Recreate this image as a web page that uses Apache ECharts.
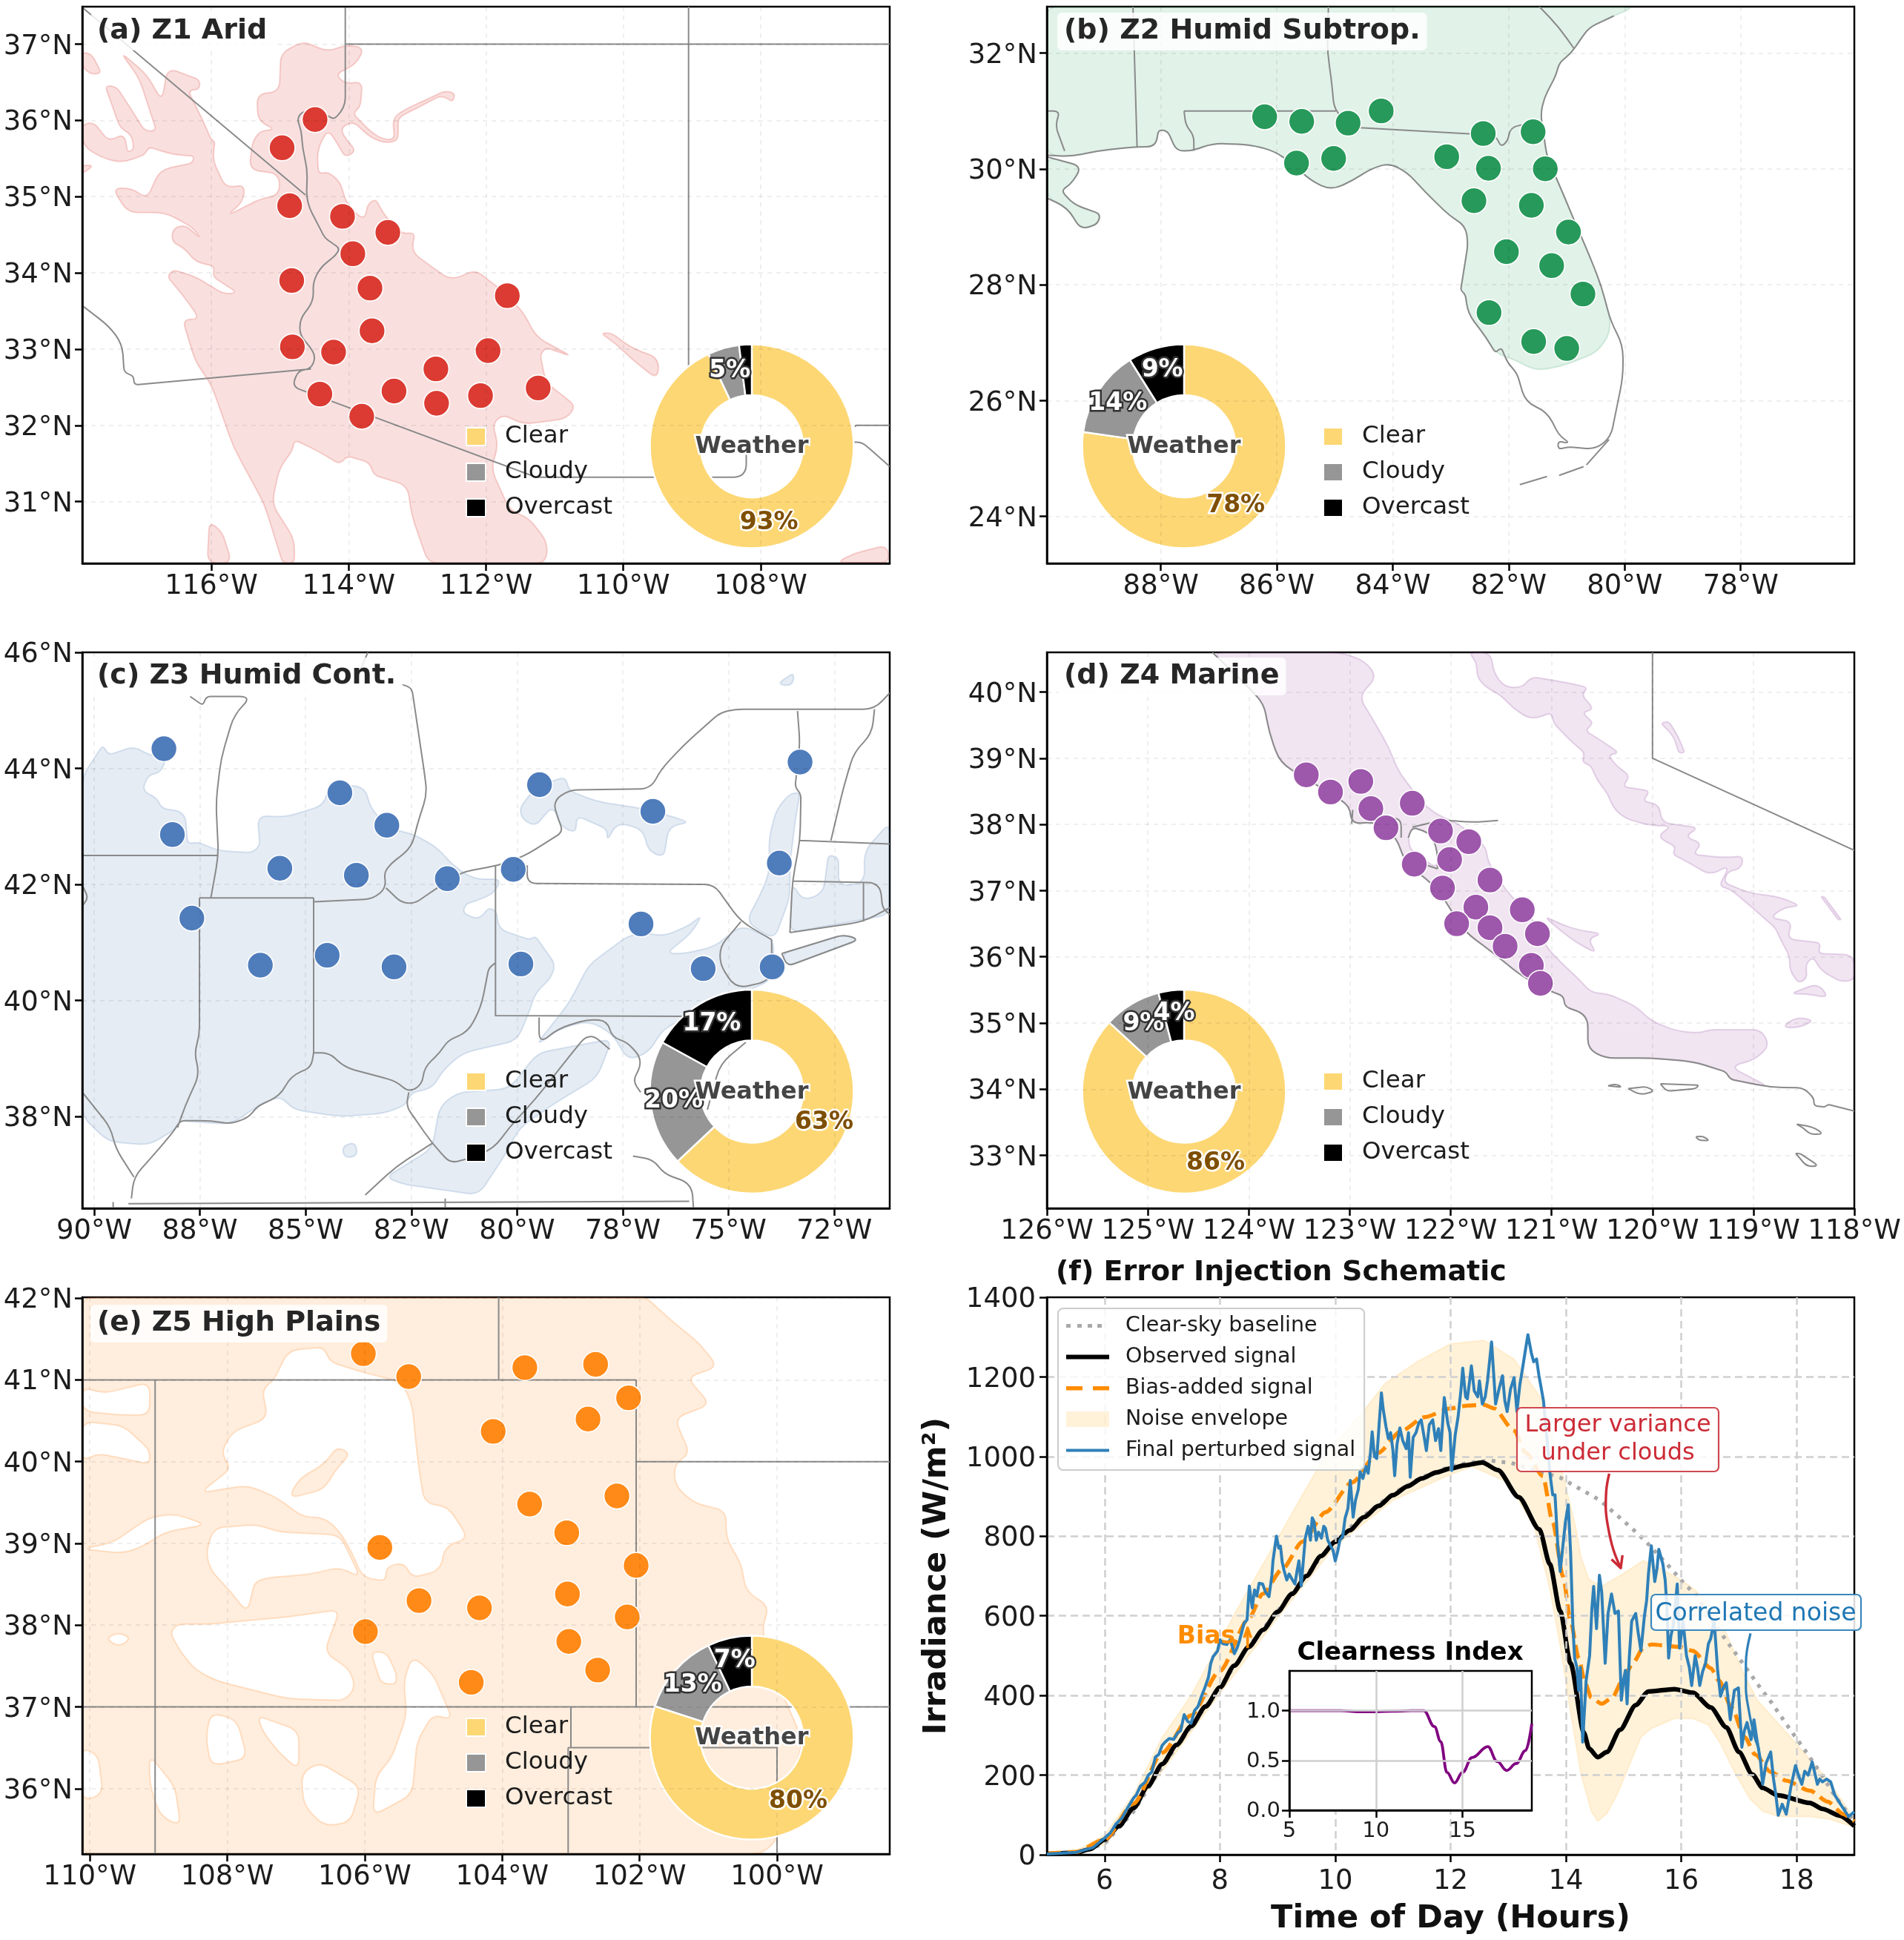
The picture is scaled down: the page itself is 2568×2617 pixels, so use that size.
<!DOCTYPE html>
<html>
<head>
<meta charset="utf-8">
<title>Climate zones and error injection</title>
<style>html,body{margin:0;padding:0;background:#fff}#chart{width:2568px;height:2617px}</style>
<script src="https://cdn.jsdelivr.net/npm/echarts@6/dist/echarts.min.js"></script>
</head>
<body>
<div id="chart"></div>
<script>
// ---- Z1 Arid -------------------------------------------------------------
const z1Sites = [[-114.49,36.01],[-114.97,35.64],[-114.86,34.88],[-114.09,34.74],[-113.43,34.53],[-113.94,34.25],[-114.83,33.90],[-113.69,33.80],[-111.69,33.70],[-113.66,33.24],[-114.82,33.03],[-114.22,32.96],[-111.97,32.98],[-112.73,32.74],[-111.24,32.49],[-114.42,32.41],[-113.34,32.45],[-112.72,32.29],[-112.08,32.39],[-113.81,32.12]];
const z1Land = [
 [[-114.99,36.88],[-114.74,37.0],[-114.63,37.02],[-114.30,36.90],[-114.05,36.99],[-113.77,36.95],[-113.89,36.74],[-114.19,36.60],[-114.05,36.48],[-113.80,36.51],[-113.83,36.18],[-113.94,36.09],[-113.69,35.86],[-113.53,35.76],[-113.33,35.74],[-113.36,36.04],[-113.14,36.16],[-112.92,36.25],[-112.59,36.39],[-112.45,36.35],[-112.48,36.24],[-112.65,36.33],[-112.92,36.20],[-113.14,36.10],[-113.28,36.03],[-113.28,35.73],[-113.47,35.70],[-113.69,35.78],[-113.94,35.99],[-114.13,35.89],[-114.02,35.73],[-113.89,35.60],[-114.05,35.51],[-114.16,35.69],[-114.30,35.88],[-114.46,35.62],[-114.44,35.30],[-114.30,35.32],[-114.13,35.20],[-114.02,34.88],[-113.77,34.69],[-113.72,34.90],[-113.61,34.97],[-113.47,34.74],[-113.22,34.51],[-113.03,34.53],[-113.09,34.28],[-112.81,34.09],[-112.51,33.90],[-112.15,34.04],[-111.96,33.90],[-111.82,33.81],[-111.46,33.49],[-111.27,33.16],[-110.99,33.02],[-110.74,32.90],[-111.13,33.02],[-111.21,32.93],[-111.13,32.56],[-110.88,32.39],[-110.69,32.25],[-110.83,32.09],[-111.21,32.04],[-111.46,32.02],[-111.76,32.14],[-111.90,32.02],[-111.82,31.72],[-111.93,31.44],[-111.65,30.88],[-111.38,30.79],[-111.10,30.46],[-111.13,30.19],[-112.84,30.19],[-113.09,30.84],[-113.14,31.21],[-113.64,31.35],[-113.69,31.51],[-114.02,31.60],[-114.13,31.49],[-114.46,31.67],[-114.79,31.81],[-114.82,31.67],[-115.01,31.44],[-115.12,30.97],[-114.79,30.51],[-114.79,30.19],[-114.96,30.19],[-115.23,30.97],[-115.46,31.35],[-115.68,31.72],[-115.90,32.28],[-116.01,32.55],[-116.23,32.83],[-116.42,33.39],[-116.17,33.39],[-116.34,33.62],[-116.64,33.95],[-116.56,34.04],[-116.23,33.95],[-115.98,33.81],[-115.81,33.72],[-115.62,33.74],[-115.98,33.95],[-115.95,34.09],[-116.23,34.14],[-116.39,34.32],[-116.58,34.41],[-116.56,34.58],[-116.39,34.63],[-116.14,34.44],[-116.28,34.60],[-116.67,34.79],[-117.22,34.79],[-117.44,35.11],[-117.16,35.11],[-116.94,34.97],[-116.75,35.35],[-116.28,35.44],[-116.25,35.53],[-116.56,35.55],[-116.91,35.65],[-116.97,35.55],[-117.30,35.44],[-117.60,35.51],[-117.88,35.67],[-117.88,35.95],[-117.71,35.97],[-117.49,35.72],[-117.27,35.83],[-117.22,35.58],[-117.13,35.62],[-117.16,35.81],[-117.33,35.90],[-117.55,36.46],[-117.38,36.44],[-117.13,36.09],[-116.97,35.86],[-116.80,35.86],[-117.05,36.55],[-117.33,36.90],[-116.94,36.60],[-116.72,36.25],[-116.64,36.69],[-116.17,36.53],[-116.17,36.41],[-116.34,36.39],[-116.12,35.99],[-116.01,35.76],[-115.95,35.72],[-115.98,35.48],[-115.79,35.11],[-115.51,35.16],[-115.54,34.93],[-115.79,34.74],[-115.29,34.97],[-115.01,35.02],[-115.01,35.30],[-115.45,35.35],[-115.40,35.72],[-115.29,35.86],[-115.07,35.88],[-115.32,35.99],[-115.34,36.35],[-115.01,36.37]],
 [[-117.88,36.90],[-117.74,36.86],[-117.60,36.62],[-117.74,36.60],[-117.88,36.69]],
 [[-110.33,33.21],[-110.17,33.21],[-109.89,33.02],[-109.48,32.88],[-109.50,32.60],[-109.89,32.88],[-110.11,33.07]],
 [[-116.06,30.19],[-116.03,30.74],[-115.84,30.60],[-115.70,30.19]],
 [[-117.88,35.41],[-117.71,35.41],[-117.88,35.30]],
 [[-106.65,30.32],[-106.16,30.43],[-106.12,30.20],[-106.90,30.20]]
];
const z1Borders = [
 [[-117.88,37.48],[-114.63,35.02]],
 [[-114.05,37.48],[-114.05,36.23],[-114.11,36.11],[-114.21,36.02],[-114.27,36.04],[-114.44,36.14],[-114.68,36.11],[-114.75,36.02],[-114.69,35.86],[-114.67,35.62],[-114.60,35.35],[-114.62,34.93],[-114.40,34.55],[-114.35,34.46],[-114.13,34.32],[-114.19,34.23],[-114.41,34.07],[-114.52,33.88],[-114.51,33.63],[-114.71,33.39],[-114.71,33.18],[-114.57,33.04],[-114.48,32.90],[-114.55,32.74],[-114.73,32.72],[-114.83,32.51],[-111.27,31.32],[-108.21,31.32],[-108.21,31.78],[-106.53,31.78],[-106.42,31.70],[-106.12,31.46]],
 [[-114.05,37.0],[-106.12,37.0]],
 [[-109.05,37.49],[-109.05,31.32]],
 [[-106.62,31.98],[-106.62,32.0],[-106.12,32.0]],
 [[-117.88,33.57],[-117.49,33.30],[-117.30,33.07],[-117.27,32.69],[-117.13,32.65],[-117.13,32.53],[-114.55,32.74]]
];
// ---- Z2 Humid subtropical ------------------------------------------------
const z2Sites = [[-86.21,30.90],[-85.57,30.82],[-84.77,30.79],[-84.20,31.00],[-82.44,30.61],[-81.58,30.64],[-85.66,30.10],[-85.02,30.18],[-83.07,30.21],[-82.35,30.01],[-81.37,30.00],[-82.60,29.45],[-81.61,29.37],[-80.97,28.91],[-82.04,28.57],[-81.26,28.33],[-80.72,27.84],[-82.34,27.52],[-81.57,27.02],[-81.00,26.90]];
const z2Land = [
 [[-89.97,32.80],[-79.82,32.80],[-80.19,32.64],[-80.61,32.44],[-80.76,32.24],[-80.92,32.0],[-81.13,31.83],[-81.18,31.63],[-81.39,31.22],[-81.45,30.95],[-81.39,30.54],[-81.34,30.20],[-81.13,29.73],[-80.82,28.99],[-80.61,28.51],[-80.40,27.97],[-80.24,27.36],[-80.29,27.09],[-80.50,26.82],[-81.13,26.58],[-81.55,26.52],[-81.86,26.69],[-82.23,26.82],[-82.39,27.09],[-82.70,27.50],[-82.75,27.84],[-82.83,27.90],[-82.70,28.72],[-82.75,29.02],[-83.02,29.19],[-83.44,29.60],[-83.75,29.94],[-84.06,30.10],[-84.38,30.0],[-84.69,29.80],[-85.06,29.63],[-85.42,29.80],[-85.74,30.10],[-86.05,30.31],[-86.47,30.42],[-87.10,30.44],[-87.47,30.31],[-87.73,30.31],[-87.88,30.65],[-88.04,30.68],[-88.09,30.38],[-88.46,30.38],[-89.09,30.31],[-89.56,30.21],[-89.97,30.24]],
 [[-89.97,30.21],[-89.35,30.04],[-89.56,29.73],[-89.72,29.63],[-89.51,29.39],[-89.04,29.22],[-89.09,29.05],[-89.38,28.95],[-89.61,29.33],[-89.97,29.50]]
];
const z2Borders = [
 [[-80.19,32.64],[-80.61,32.44],[-80.76,32.24],[-80.92,32.0],[-81.13,31.83],[-81.18,31.63],[-81.39,31.22],[-81.45,30.95],[-81.39,30.54],[-81.34,30.20],[-81.13,29.73],[-80.82,28.99],[-80.61,28.51],[-80.40,27.97],[-80.24,27.36],[-80.03,26.96],[-80.03,26.41],[-80.14,25.87],[-80.24,25.37],[-80.50,25.16],[-80.97,25.20],[-81.15,25.16],[-81.15,25.30],[-80.94,25.26],[-81.13,25.40],[-81.34,25.81],[-81.71,25.97],[-81.86,26.48],[-82.02,26.65],[-82.13,26.92],[-82.23,26.82],[-82.39,27.09],[-82.70,27.50],[-82.75,27.84],[-82.83,27.90],[-82.70,28.72],[-82.75,29.02],[-83.02,29.19],[-83.44,29.60],[-83.75,29.94],[-84.06,30.10],[-84.38,30.0],[-84.69,29.80],[-85.06,29.63],[-85.42,29.80],[-85.74,30.10],[-86.05,30.31],[-86.47,30.42],[-87.10,30.44],[-87.47,30.31],[-87.73,30.31],[-87.88,30.65],[-88.04,30.68],[-88.09,30.38],[-88.46,30.38],[-89.09,30.31],[-89.56,30.21],[-89.97,30.24]],
 [[-89.97,30.21],[-89.35,30.04],[-89.56,29.73],[-89.72,29.63],[-89.51,29.39],[-89.04,29.22],[-89.09,29.05],[-89.38,28.95],[-89.61,29.33],[-89.97,29.50]],
 [[-81.81,24.55],[-81.34,24.69]],[[-81.13,24.71],[-80.71,24.86]],[[-80.66,24.89],[-80.27,25.33]],
 [[-84.57,30.71],[-82.23,30.58],[-82.13,30.38],[-82.02,30.48],[-81.97,30.71],[-81.71,30.78],[-81.45,30.71]],
 [[-87.60,31.0],[-84.98,31.0]],
 [[-85.11,32.80],[-85.13,32.03],[-85.06,31.56],[-85.01,31.02],[-84.77,30.79],[-84.57,30.71]],
 [[-87.60,31.0],[-87.57,30.75],[-87.43,30.58],[-87.43,30.31]],
 [[-88.48,32.80],[-88.41,30.38]],
 [[-89.97,31.0],[-89.74,31.0],[-89.82,30.75],[-89.66,30.31]],
 [[-81.47,32.80],[-81.13,32.44],[-80.87,32.07]]
];
// ---- Z3 Humid continental ------------------------------------------------
const z3Sites = [[-88.35,44.34],[-88.15,42.86],[-84.19,43.58],[-83.08,43.02],[-85.61,42.28],[-83.80,42.16],[-81.65,42.10],[-80.09,42.26],[-79.47,43.72],[-76.79,43.26],[-73.31,44.11],[-73.80,42.37],[-87.69,41.42],[-86.07,40.61],[-84.49,40.78],[-82.91,40.58],[-79.91,40.63],[-77.07,41.32],[-75.60,40.55],[-73.97,40.58]];
const z3Land = [
 [[-90.28,43.86],[-89.79,44.41],[-89.67,44.23],[-89.06,44.38],[-88.70,44.23],[-88.27,44.17],[-88.46,43.92],[-88.70,43.89],[-88.88,43.62],[-88.52,43.49],[-88.40,43.31],[-87.85,43.25],[-87.79,42.70],[-87.54,42.73],[-87.06,42.58],[-86.27,42.55],[-86.08,42.67],[-86.14,43.19],[-85.47,43.16],[-84.56,43.37],[-84.44,43.74],[-83.59,43.68],[-83.47,43.31],[-82.98,42.95],[-82.49,42.88],[-81.89,42.64],[-81.52,42.33],[-81.03,42.09],[-80.37,42.09],[-80.55,41.85],[-80.85,41.75],[-81.22,41.66],[-81.28,41.51],[-80.91,41.39],[-80.67,41.60],[-80.49,41.54],[-80.43,41.23],[-79.70,41.05],[-79.57,41.11],[-79.09,40.62],[-79.21,40.38],[-79.57,40.13],[-79.70,39.83],[-80.0,39.31],[-80.55,39.22],[-81.28,39.10],[-81.76,38.79],[-82.01,38.48],[-82.49,38.42],[-82.62,38.21],[-83.10,38.06],[-84.20,38.0],[-85.29,38.12],[-85.60,38.36],[-86.14,38.18],[-86.75,37.87],[-87.48,37.90],[-87.97,37.93],[-88.09,37.78],[-88.70,37.51],[-89.67,37.57],[-90.28,38.0]],
 [[-79.94,43.31],[-79.57,43.68],[-78.85,43.86],[-78.78,43.62],[-78.12,43.43],[-77.02,43.31],[-76.29,43.16],[-75.92,43.07],[-76.41,43.0],[-76.53,42.46],[-76.90,42.58],[-77.02,42.95],[-77.63,43.07],[-77.87,42.76],[-77.87,42.95],[-78.60,43.19],[-78.60,42.88],[-78.97,43.0],[-79.15,43.37],[-79.57,43.0],[-79.88,43.13]],
 [[-73.55,43.56],[-73.31,43.59],[-73.43,43.07],[-73.55,42.33],[-73.55,41.78],[-73.92,41.05],[-74.59,41.36],[-74.28,41.78],[-74.04,42.18],[-74.04,42.82],[-73.86,43.31]],
 [[-79.57,39.22],[-78.78,39.95],[-78.30,40.62],[-77.39,41.11],[-77.02,41.17],[-76.53,41.11],[-75.92,41.30],[-75.62,41.48],[-75.87,41.17],[-76.47,40.81],[-76.05,40.81],[-75.32,40.93],[-74.71,41.30],[-73.92,41.05],[-73.98,40.35],[-74.47,40.20],[-76.53,39.52],[-76.90,39.10],[-77.38,38.97],[-77.75,39.43],[-78.30,39.65],[-78.97,39.52]],
 [[-77.75,39.34],[-78.11,38.67],[-79.09,38.24],[-79.94,37.81],[-80.30,37.32],[-80.91,36.65],[-82.74,36.84],[-83.10,36.96],[-82.01,37.45],[-81.83,38.18],[-81.40,38.42],[-80.19,38.48],[-79.51,39.10]],
 [[-73.49,42.03],[-73.25,41.72],[-72.76,41.85],[-72.64,42.52],[-72.40,42.46],[-72.40,41.97],[-71.79,42.03],[-71.79,42.58],[-71.19,43.07],[-71.19,41.48],[-73.55,41.17]],
 [[-73.74,40.81],[-72.27,41.14],[-71.91,41.05],[-73.61,40.59]],
 [[-73.86,45.45],[-73.44,45.66],[-73.49,45.42]],
 [[-84.14,37.48],[-83.83,37.57],[-83.77,37.32],[-84.08,37.29]]
];
const z3Borders = [
 [[-87.73,45.24],[-87.42,45.08],[-87.36,45.24],[-86.27,45.24],[-86.69,44.93],[-87.0,44.17],[-87.12,43.43],[-87.06,42.50],[-87.24,41.77]],
 [[-90.28,42.50],[-87.06,42.50]],
 [[-87.51,41.77],[-84.81,41.77]],
 [[-84.81,41.70],[-83.41,41.75],[-83.10,41.94],[-83.14,42.21],[-82.98,42.36],[-82.49,42.64],[-82.37,43.01],[-82.13,43.56],[-82.19,43.92],[-82.49,45.39],[-82.74,45.45]],
 [[-83.53,46.0],[-83.71,45.69]],
 [[-83.10,41.94],[-82.74,41.69],[-82.43,41.67],[-81.89,41.94],[-81.34,42.21],[-80.43,42.33],[-79.82,42.49],[-78.91,42.91],[-79.03,43.13],[-79.15,43.43],[-78.78,43.63],[-76.84,43.65],[-76.60,43.98],[-76.05,44.41],[-75.20,44.96],[-74.83,45.02],[-71.55,45.02],[-71.19,45.30]],
 [[-73.37,44.99],[-73.31,44.41],[-73.43,43.68],[-73.29,43.56],[-73.31,42.76],[-73.49,42.06],[-73.55,41.17]],
 [[-71.55,45.02],[-71.61,44.59],[-72.03,44.29],[-72.28,43.68],[-72.58,42.76]],
 [[-73.31,42.76],[-71.19,42.70]],
 [[-73.49,42.06],[-71.42,42.03],[-71.36,41.60],[-71.19,41.48]],
 [[-71.81,42.03],[-71.81,41.36]],
 [[-73.55,41.17],[-71.81,41.36],[-71.19,41.60]],
 [[-79.76,42.33],[-79.76,42.02],[-75.34,42.0],[-75.07,41.72],[-74.71,41.36],[-73.98,41.05]],
 [[-74.71,41.36],[-75.20,40.93],[-75.20,40.62],[-74.83,40.20],[-73.98,40.35],[-73.98,41.05]],
 [[-80.51,42.33],[-80.51,39.74],[-75.99,39.73]],
 [[-87.51,41.77],[-87.51,39.40],[-87.63,39.10],[-87.51,38.73],[-87.85,38.18],[-88.03,37.81]],
 [[-84.81,41.77],[-84.81,39.10]],
 [[-84.81,39.10],[-84.87,38.85],[-85.35,38.70],[-85.60,38.36],[-86.14,38.18],[-86.33,38.0],[-86.75,37.87],[-87.24,37.93],[-87.97,37.93],[-88.09,37.78],[-88.39,37.51],[-89.06,36.96],[-89.12,36.59]],
 [[-90.28,38.42],[-89.61,37.81],[-89.49,37.45],[-89.06,36.96]],
 [[-84.81,39.10],[-84.44,39.10],[-84.08,38.85],[-83.47,38.73],[-82.86,38.61],[-82.56,38.42],[-82.25,38.55],[-82.19,38.85],[-81.83,39.10],[-81.64,39.31],[-81.16,39.46],[-80.85,39.89],[-80.67,40.56],[-80.51,40.65]],
 [[-82.56,38.42],[-82.62,38.18],[-82.01,37.54],[-81.58,37.20],[-81.22,37.26],[-80.55,37.45],[-80.19,37.81],[-79.57,38.30],[-78.97,38.85],[-78.30,39.46],[-77.81,39.16]],
 [[-82.01,37.54],[-82.86,37.14],[-83.59,36.65]],
 [[-79.48,39.71],[-79.48,39.25],[-79.03,39.52],[-78.30,39.68],[-77.87,39.65],[-77.75,39.37],[-77.39,39.28],[-77.02,38.97],[-77.26,38.61],[-77.08,38.42]],
 [[-89.19,36.50],[-75.93,36.54]],
 [[-81.70,36.59],[-81.70,36.42]],[[-89.55,36.53],[-89.55,36.42]],
 [[-77.26,37.32],[-76.78,37.26],[-76.53,37.02],[-75.87,36.84],[-75.83,36.42]],
 [[-73.74,40.81],[-72.27,41.14],[-71.91,41.05],[-73.61,40.59],[-73.74,40.81]],
 [[-74.59,39.28],[-75.20,38.91],[-75.50,38.12]],
 [[-90.28,41.99],[-90.14,41.77],[-90.28,41.63]]
];
// ---- Z4 Marine -----------------------------------------------------------
const z4Sites = [[-123.43,38.75],[-123.19,38.49],[-122.89,38.65],[-122.79,38.24],[-122.64,37.95],[-122.38,38.32],[-122.10,37.90],[-121.82,37.74],[-122.01,37.47],[-122.36,37.40],[-121.61,37.16],[-122.08,37.04],[-121.75,36.75],[-121.29,36.71],[-121.94,36.50],[-121.61,36.44],[-121.14,36.35],[-121.46,36.16],[-121.20,35.87],[-121.11,35.60]];
const z4Coast = [[-124.36,40.60],[-123.99,40.05],[-123.85,39.82],[-123.80,39.40],[-123.69,38.93],[-123.33,38.60],[-123.0,38.28],[-122.98,38.01],[-122.73,38.04],[-122.53,37.79],[-122.46,37.45],[-122.13,37.03],[-121.86,36.38],[-121.57,36.05],[-121.29,35.70],[-120.98,35.46],[-120.88,35.41],[-120.87,35.25],[-120.64,35.12],[-120.64,34.61],[-120.47,34.47],[-120.02,34.47],[-119.60,34.42],[-119.27,34.26],[-119.23,34.15],[-118.84,34.03],[-118.50,34.02],[-118.40,33.86],[-118.40,33.75],[-118.29,33.73],[-118.26,33.77],[-118.0,33.67]];
const z4Land = [
 [[-124.36,40.60],[-123.99,40.05],[-123.85,39.82],[-123.80,39.40],[-123.69,38.93],[-123.33,38.60],[-123.0,38.28],[-122.98,38.01],[-122.73,38.04],[-122.53,37.79],[-122.46,37.45],[-122.13,37.03],[-121.86,36.38],[-121.57,36.05],[-121.29,35.70],[-120.98,35.46],[-120.88,35.41],[-120.87,35.25],[-120.64,35.12],[-120.64,34.61],[-120.47,34.47],[-120.02,34.47],[-119.60,34.42],[-119.27,34.26],[-119.23,34.15],[-118.84,34.03],[-119.23,34.34],[-118.98,34.45],[-118.84,34.66],[-118.92,34.90],[-119.43,34.90],[-119.54,34.85],[-119.77,34.88],[-120.02,35.04],[-120.16,35.25],[-120.44,35.44],[-120.61,35.46],[-120.72,35.65],[-120.89,35.89],[-121.06,36.16],[-121.15,36.48],[-121.23,36.64],[-121.46,37.02],[-121.63,37.44],[-121.65,37.66],[-121.94,38.03],[-122.13,38.14],[-122.30,38.35],[-122.37,38.51],[-122.52,38.81],[-122.61,39.16],[-122.79,39.64],[-122.91,39.93],[-122.73,40.23],[-122.85,40.47],[-123.09,40.60]],
 [[-121.82,40.60],[-121.60,40.60],[-121.57,40.28],[-121.46,40.07],[-121.29,40.07],[-121.20,40.23],[-121.06,40.20],[-120.78,40.12],[-120.64,40.07],[-120.70,39.96],[-120.58,39.74],[-120.70,39.69],[-120.58,39.53],[-120.67,39.42],[-120.50,39.26],[-120.33,39.08],[-120.44,39.05],[-120.36,38.89],[-120.22,38.73],[-120.30,38.57],[-120.02,38.51],[-120.10,38.35],[-119.93,38.30],[-119.91,38.03],[-119.54,37.95],[-119.68,37.82],[-119.51,37.71],[-119.60,37.55],[-119.32,37.50],[-119.10,37.52],[-119.12,37.34],[-119.26,37.28],[-119.29,37.12],[-119.03,36.96],[-118.75,36.91],[-118.53,36.77],[-118.69,36.75],[-118.84,36.59],[-118.61,36.53],[-118.67,36.27],[-118.33,36.21],[-118.36,36.05],[-118.0,36.03],[-118.0,35.65],[-118.13,35.62],[-118.33,35.79],[-118.41,36.0],[-118.48,35.89],[-118.47,35.68],[-118.55,35.60],[-118.64,35.79],[-118.64,36.0],[-118.75,36.32],[-118.78,36.43],[-119.03,36.77],[-119.23,37.02],[-119.34,37.07],[-119.23,37.39],[-119.43,37.23],[-119.60,37.39],[-119.80,37.55],[-119.77,37.66],[-119.96,37.82],[-119.80,37.98],[-120.02,37.98],[-120.27,38.09],[-120.39,38.25],[-120.44,38.46],[-120.55,38.67],[-120.61,38.89],[-120.70,38.94],[-120.67,39.08],[-120.81,39.26],[-120.98,39.53],[-121.0,39.69],[-121.20,39.58],[-121.37,39.74],[-121.51,39.96],[-121.65,40.07],[-121.74,40.23],[-121.74,40.44]],
 [[-121.09,36.63],[-120.89,36.48],[-120.72,36.40],[-120.50,36.35],[-120.64,36.27],[-120.55,36.05],[-120.75,36.21],[-120.89,36.37]],
 [[-118.72,34.93],[-118.58,35.09],[-118.39,35.04],[-118.55,34.93]],
 [[-118.64,35.44],[-118.36,35.60],[-118.25,35.38],[-118.47,35.44]],
 [[-119.92,39.53],[-119.84,39.56],[-119.74,39.32],[-119.68,39.08],[-119.74,39.08],[-119.79,39.34]],
 [[-118.30,36.91],[-118.13,36.56],[-118.16,36.56],[-118.33,36.91]]
];
const z4Bay = [[[-122.42,37.80],[-122.38,37.96],[-122.19,37.86],[-122.13,37.59],[-122.13,37.33],[-122.40,37.62]]];
const z4Islands = [
 [[-120.44,34.05],[-120.36,34.08],[-120.30,34.03]],
 [[-120.24,34.01],[-120.06,34.04],[-119.98,33.97],[-120.12,33.91]],
 [[-119.92,34.08],[-119.54,34.06],[-119.57,34.01],[-119.86,33.97]],
 [[-119.57,33.28],[-119.50,33.29],[-119.43,33.22],[-119.54,33.23]],
 [[-118.57,33.47],[-118.41,33.43],[-118.30,33.32],[-118.44,33.32],[-118.51,33.42]],
 [[-118.58,33.03],[-118.54,33.03],[-118.35,32.84],[-118.47,32.83]]
];
const z4Borders = [
 z4Coast,
 [[-120.0,40.6],[-120.0,39.0],[-118.0,37.61]],
 [[-122.42,37.80],[-122.38,37.96],[-122.19,37.86],[-122.13,37.59],[-122.13,37.33]],
 [[-122.46,37.50],[-122.13,37.33]],
 [[-122.38,37.96],[-122.07,38.07],[-121.80,38.03],[-121.53,38.06]],
 [[-122.97,38.22],[-122.98,38.01]],[[-122.73,38.04],[-122.49,38.12],[-122.49,37.80]]
].concat(z4Islands.map(r => r.concat([r[0]])));
// ---- Z5 High Plains ------------------------------------------------------
const z5Sites = [[-106.02,41.32],[-105.36,41.04],[-103.67,41.15],[-102.64,41.19],[-102.16,40.78],[-102.75,40.52],[-104.13,40.37],[-102.33,39.58],[-103.60,39.48],[-103.06,39.13],[-105.78,38.95],[-102.05,38.73],[-103.05,38.38],[-105.21,38.30],[-104.33,38.21],[-102.18,38.10],[-105.99,37.92],[-103.03,37.80],[-102.61,37.45],[-104.45,37.30]];
const z5Land = [
 [[-110.11,42.01],[-101.91,42.01],[-101.79,41.92],[-101.57,41.75],[-101.12,41.44],[-100.86,41.16],[-101.31,41.03],[-100.97,40.70],[-101.49,40.53],[-101.27,40.10],[-101.49,39.97],[-101.49,39.71],[-101.20,39.49],[-100.74,39.40],[-100.74,39.06],[-100.52,38.75],[-100.45,38.41],[-100.11,38.23],[-100.22,37.97],[-100.07,37.45],[-99.62,36.58],[-99.85,35.93],[-100.0,35.37],[-100.22,35.20],[-110.11,35.20]],
 [[-106.40,40.18],[-106.21,40.10],[-106.44,39.88],[-106.59,39.66],[-107.11,39.55],[-106.96,39.79],[-106.59,39.97]]
];
const z5Gaps = [
 [[-107.32,41.0],[-107.11,41.36],[-106.59,41.40],[-106.51,41.22],[-106.06,41.10],[-105.46,40.97],[-105.31,40.70],[-105.25,40.18],[-105.20,39.84],[-105.13,39.49],[-104.79,39.45],[-104.49,39.06],[-104.83,38.97],[-104.90,38.67],[-105.31,38.58],[-105.43,38.77],[-105.69,38.71],[-105.69,38.54],[-106.03,38.58],[-106.18,38.88],[-106.36,39.14],[-106.59,39.32],[-106.89,39.32],[-107.30,39.57],[-107.71,39.71],[-108.09,39.66],[-108.39,39.62],[-107.94,39.92],[-108.09,40.10],[-107.94,40.36],[-107.41,40.53],[-107.49,40.88]],
 [[-108.20,39.19],[-107.56,39.23],[-107.26,39.14],[-106.36,39.10],[-106.21,38.84],[-106.06,38.58],[-106.36,38.71],[-106.81,38.62],[-107.41,38.58],[-107.60,38.53],[-107.71,38.15],[-107.94,38.40],[-108.24,38.67],[-108.31,38.88]],
 [[-108.83,37.91],[-108.72,38.01],[-108.24,38.01],[-107.64,38.06],[-107.11,38.10],[-106.36,38.19],[-106.59,37.67],[-106.21,37.45],[-106.14,37.23],[-106.29,37.08],[-107.11,37.10],[-107.56,37.19],[-108.16,37.32],[-108.46,37.45],[-108.68,37.67]],
 [[-110.11,40.92],[-109.81,40.83],[-109.13,40.97],[-109.13,40.57],[-109.58,40.57],[-110.11,40.62]],
 [[-110.11,40.49],[-109.51,40.44],[-109.13,40.14],[-109.13,39.97],[-109.88,40.10],[-110.11,40.01]],
 [[-110.11,38.93],[-109.66,39.01],[-109.13,39.32],[-108.76,39.36],[-108.31,39.23],[-108.91,39.14],[-109.21,38.97],[-109.51,38.88]],
 [[-109.77,37.84],[-109.58,37.91],[-109.40,37.84],[-109.58,37.73]],
 [[-105.91,37.67],[-105.69,37.67],[-105.54,37.41],[-105.54,37.28],[-105.76,37.28]],
 [[-105.31,37.62],[-105.01,37.41],[-104.72,36.84],[-105.01,36.91],[-105.24,36.58],[-105.31,35.93],[-105.88,35.67],[-105.84,36.15],[-105.61,36.37],[-105.39,36.89],[-105.43,37.32]],
 [[-106.92,36.19],[-106.66,36.32],[-106.06,36.02],[-106.21,35.59],[-106.59,35.54],[-106.89,35.80]],
 [[-108.24,36.93],[-107.86,36.84],[-107.71,36.37],[-108.24,36.28],[-108.31,36.63]],
 [[-109.13,36.41],[-108.76,36.02],[-108.68,35.54],[-108.98,35.67],[-109.13,36.06]],
 [[-110.11,36.50],[-109.88,36.41],[-109.81,35.93],[-110.11,35.85]],
 [[-107.56,36.89],[-106.96,36.71],[-106.96,36.23],[-107.26,36.45],[-107.49,36.71]]
];
const z5Borders = [
 [[-110.11,41.0],[-102.05,41.0]],
 [[-109.05,41.0],[-109.05,35.2]],
 [[-102.05,41.0],[-102.05,37.0]],
 [[-104.05,42.01],[-104.05,41.0]],
 [[-102.05,40.0],[-98.36,40.0]],
 [[-110.11,37.0],[-98.36,37.0]],
 [[-103.0,37.0],[-103.0,36.5]],
 [[-103.04,36.5],[-100.0,36.5],[-100.0,35.2]],
 [[-103.04,36.5],[-103.04,35.2]]
];
// ---- Weather shares per zone, in percent ---------------------------------
const weatherNames = ['Clear','Cloudy','Overcast'];
const z1Weather = [93,5,2];
const z2Weather = [78,14,9];
const z3Weather = [63,20,17];
const z4Weather = [86,9,4];
const z5Weather = [80,13,7];
// ---- Tick positions and labels -------------------------------------------
const z1LonTicks = [-116,-114,-112,-110,-108], z1LonLabels = ['116°W','114°W','112°W','110°W','108°W'];
const z1LatTicks = [31,32,33,34,35,36,37], z1LatLabels = ['31°N','32°N','33°N','34°N','35°N','36°N','37°N'];
const z2LonTicks = [-88,-86,-84,-82,-80,-78], z2LonLabels = ['88°W','86°W','84°W','82°W','80°W','78°W'];
const z2LatTicks = [24,26,28,30,32], z2LatLabels = ['24°N','26°N','28°N','30°N','32°N'];
const z3LonTicks = [-90,-87.5,-85,-82.5,-80,-77.5,-75,-72.5], z3LonLabels = ['90°W','88°W','85°W','82°W','80°W','78°W','75°W','72°W'];
const z3LatTicks = [38,40,42,44,46], z3LatLabels = ['38°N','40°N','42°N','44°N','46°N'];
const z4LonTicks = [-126,-125,-124,-123,-122,-121,-120,-119,-118], z4LonLabels = ['126°W','125°W','124°W','123°W','122°W','121°W','120°W','119°W','118°W'];
const z4LatTicks = [33,34,35,36,37,38,39,40], z4LatLabels = ['33°N','34°N','35°N','36°N','37°N','38°N','39°N','40°N'];
const z5LonTicks = [-110,-108,-106,-104,-102,-100], z5LonLabels = ['110°W','108°W','106°W','104°W','102°W','100°W'];
const z5LatTicks = [36,37,38,39,40,41,42], z5LatLabels = ['36°N','37°N','38°N','39°N','40°N','41°N','42°N'];
const hourTicks = [6,8,10,12,14,16,18];
const irradianceTicks = [0,200,400,600,800,1000,1200,1400];
const insetHourTicks = [5,10,15];
const insetIndexTicks = [0,0.5,1];
// ---- Irradiance signals --------------------------------------------------
const clearHours = [5,5.5,6,6.5,7,7.5,8,8.5,9,9.5,10,10.5,11,11.5,12,12.3,12.68,13.05,13.9,14.24,14.58,14.85,15.12,15.39,15.77,16.02,16.27,16.69,17,17.32,17.55,17.86,18.18,18.4,18.67,19];
const clearValues = [1,4,28,108,222,322,422,524,612,703,790,852,907,948,975,984,990,984,947,919,891,857,823,786,727,686,649,556,494,429,385,320,255,208,146,84];
const observedHours = [5,5.5,5.75,6,6.25,6.5,6.75,7,7.25,7.5,7.75,8,8.25,8.5,8.75,9,9.25,9.5,9.75,10,10.25,10.5,10.75,11,11.25,11.5,11.75,12,12.25,12.55,12.82,13.18,13.54,13.72,13.9,14.08,14.31,14.4,14.55,14.71,14.94,15.21,15.43,15.88,16.2,16.51,16.78,17,17.23,17.41,17.68,18.23,18.45,18.75,19];
const observedValues = [2,5,14,38,72,117,172,228,276,323,372,420,475,522,565,610,655,700,750,786,815,848,876,903,925,945,960,970,978,985,966,898,817,730,612,481,307,267,245,258,314,376,410,416,407,370,320,258,202,168,149,130,115,98,72];
const biasHours = [5,5.5,6,6.5,7,7.5,8,8.5,8.74,9.08,9.43,9.83,10.29,10.74,11.15,11.55,12,12.3,12.58,12.75,13.1,13.3,13.6,13.77,13.95,14.08,14.22,14.33,14.44,14.62,14.8,14.98,15.16,15.34,15.48,15.97,16.2,16.51,16.65,16.87,17.1,17.28,17.55,17.82,18.23,18.54,18.81,19];
const biasValues = [3,7,38,128,256,350,462,593,655,717,786,860,935,1009,1065,1099,1121,1128,1130,1121,1065,1010,951,835,699,587,494,432,394,379,394,438,481,519,528,522,512,469,438,370,295,252,208,186,161,133,102,84];
const upperHours = [5,5.5,6,6.5,7,7.5,8,8.28,8.97,9.43,9.88,10.46,10.86,11.43,12,12.58,13.1,13.6,13.99,14.17,14.26,14.4,14.62,14.98,15.34,15.66,15.97,16.24,16.65,16.87,17.1,17.32,17.78,18.23,18.54,19];
const upperValues = [4,9,50,150,295,400,535,612,786,904,1016,1109,1183,1239,1283,1292,1245,1140,929,823,748,692,674,705,739,717,693,665,600,525,450,388,314,239,189,90];
const lowerHours = [5,6,7,8,9,10,11,12,12.37,13,13.45,13.72,13.9,14.08,14.26,14.44,14.55,14.71,14.89,15.07,15.3,15.48,15.88,16.2,16.47,16.69,16.92,17.19,17.41,17.68,18.23,18.54,19];
const lowerValues = [1,25,210,405,595,775,890,955,975,935,823,668,525,357,202,109,84,103,152,214,295,317,342,342,326,276,208,140,109,96,96,90,70];
const finalSignal = [[5,2],[5.5,6],[5.8,18],[6,42],[6.1,55],[6.2,78],[6.3,92],[6.4,118],[6.5,142],[6.55,150],[6.62,172],[6.7,182],[6.76,200],[6.82,208],[6.88,245],[6.94,252],[7,275],[7.05,283],[7.12,292],[7.2,290],[7.26,305],[7.32,312],[7.38,352],[7.44,335],[7.5,330],[7.56,362],[7.62,372],[7.68,398],[7.74,420],[7.8,445],[7.84,480],[7.88,497],[7.96,512],[8,540],[8.05,530],[8.12,528],[8.18,540],[8.25,505],[8.3,520],[8.34,538],[8.42,582],[8.47,590],[8.51,675],[8.56,620],[8.6,665],[8.64,650],[8.68,682],[8.74,680],[8.79,660],[8.85,648],[8.9,700],[8.92,738],[8.98,800],[9.02,770],[9.05,775],[9.08,735],[9.11,715],[9.16,690],[9.2,705],[9.25,692],[9.3,680],[9.34,715],[9.37,738],[9.41,675],[9.45,745],[9.48,795],[9.53,825],[9.57,790],[9.6,846],[9.63,838],[9.67,790],[9.71,810],[9.76,795],[9.8,825],[9.83,820],[9.87,790],[9.91,778],[9.96,765],[10,738],[10.04,760],[10.08,790],[10.13,800],[10.17,845],[10.22,870],[10.26,940],[10.31,848],[10.35,890],[10.4,918],[10.43,962],[10.48,945],[10.53,975],[10.57,958],[10.61,1010],[10.64,1062],[10.68,1000],[10.72,995],[10.76,1080],[10.8,1160],[10.83,1120],[10.88,1075],[10.92,1045],[10.96,1060],[11,1015],[11.03,952],[11.07,1030],[11.12,1072],[11.17,1040],[11.23,1020],[11.27,1060],[11.3,948],[11.35,1048],[11.4,1060],[11.45,1085],[11.49,1092],[11.54,1050],[11.58,1015],[11.63,1080],[11.69,1092],[11.74,1040],[11.79,1070],[11.83,1015],[11.89,1148],[11.95,1085],[11.99,1060],[12.02,965],[12.08,1055],[12.13,1100],[12.18,1168],[12.21,1222],[12.26,1150],[12.29,1145],[12.33,1190],[12.36,1228],[12.41,1165],[12.47,1150],[12.5,1190],[12.55,1132],[12.6,1150],[12.64,1190],[12.71,1288],[12.75,1200],[12.78,1132],[12.84,1170],[12.9,1203],[12.94,1140],[12.98,1113],[13.04,1170],[13.1,1198],[13.15,1113],[13.2,1180],[13.24,1215],[13.3,1270],[13.34,1306],[13.4,1260],[13.44,1238],[13.49,1245],[13.53,1205],[13.61,1140],[13.66,1060],[13.7,1000],[13.72,960],[13.77,904],[13.81,904],[13.86,773],[13.9,711],[13.95,780],[13.99,835],[14.04,879],[14.08,761],[14.12,575],[14.15,494],[14.19,470],[14.22,413],[14.25,470],[14.29,283],[14.35,438],[14.41,500],[14.45,620],[14.48,674],[14.53,568],[14.58,702],[14.62,660],[14.68,481],[14.73,606],[14.79,655],[14.85,606],[14.91,612],[14.96,388],[15,440],[15.03,463],[15.06,379],[15.1,500],[15.14,587],[15.21,606],[15.25,560],[15.3,512],[15.36,599],[15.4,640],[15.43,705],[15.48,776],[15.54,686],[15.58,720],[15.61,767],[15.68,730],[15.72,690],[15.75,624],[15.78,494],[15.82,550],[15.86,575],[15.93,680],[15.97,519],[16.03,587],[16.09,500],[16.14,470],[16.18,425],[16.24,500],[16.28,470],[16.32,425],[16.37,460],[16.42,481],[16.47,530],[16.51,543],[16.57,587],[16.63,463],[16.68,398],[16.73,420],[16.78,432],[16.85,339],[16.92,413],[16.99,419],[17.05,270],[17.09,310],[17.14,332],[17.21,289],[17.26,339],[17.31,290],[17.37,239],[17.41,177],[17.47,230],[17.55,258],[17.6,189],[17.64,150],[17.68,99],[17.75,127],[17.82,102],[17.9,170],[17.98,224],[18.03,200],[18.09,177],[18.14,210],[18.2,200],[18.27,233],[18.36,177],[18.4,190],[18.45,183],[18.52,190],[18.59,183],[18.66,150],[18.76,127],[18.9,96],[19,108]];
const clearnessHours = [5,7,8,9,10,11,12,12.76,13.38,13.74,14.1,14.54,15,15.55,16.46,17,17.55,18.1,18.64,19];
const clearnessValues = [1,1,1,0.99,0.99,0.995,1,1,0.84,0.69,0.38,0.275,0.38,0.53,0.64,0.49,0.40,0.47,0.6,0.87];
// Callout strokes, in the hour / irradiance units of the main plot
const cloudsArrowHours = [14.75,14.70,14.69,14.73,14.82,14.95];
const cloudsArrowValues = [957,916,873,823,767,720];
const cloudsHeadHours = [14.79,14.95,14.98];
const cloudsHeadValues = [742,720,752];
const noiseArrowHours = [17.2,17.12,17.12,17.17,17.26,17.35];
const noiseArrowValues = [556,481,419,363,301,264];
const biasArrowHours = [8.48,8.48];
const biasArrowValues = [519,568];
const biasHeadHours = [8.42,8.48,8.54];
const biasHeadValues = [545,570,545];

const FONT = 'DejaVu Sans';
const INK = '#1c1c1c';
const zip = (xs, ys) => xs.map((x, i) => [x, ys[i]]);

// Map panels: plot rectangle, axis extents and zone styling
const panels = [
 {tag:'(a) Z1 Arid', box:[111,9,1089,751], lon:[-117.88,-106.12], lat:[30.19,37.49], lonT:z1LonTicks, lonL:z1LonLabels, latT:z1LatTicks, latL:z1LatLabels, sites:z1Sites, land:z1Land, gaps:[], borders:z1Borders, dot:'#db3b32', fill:'rgba(215,48,39,0.15)', edge:'rgba(215,48,39,0.2)', weather:z1Weather, pie:[1014,602], key:[628,572], tagX:122, tagY:17},
 {tag:'(b) Z2 Humid Subtrop.', box:[1412,9,1089,751], lon:[-89.965,-76.04], lat:[23.19,32.8], lonT:z2LonTicks, lonL:z2LonLabels, latT:z2LatTicks, latL:z2LatLabels, sites:z2Sites, land:z2Land, gaps:[], borders:z2Borders, dot:'#27995a', fill:'rgba(26,152,80,0.13)', edge:'rgba(26,152,80,0.16)', weather:z2Weather, pie:[1597,602], key:[1784,572], tagX:1426, tagY:17},
 {tag:'(c) Z3 Humid Cont.', box:[111,880,1089,750], lon:[-90.28,-71.19], lat:[36.42,46.0], lonT:z3LonTicks, lonL:z3LonLabels, latT:z3LatTicks, latL:z3LatLabels, sites:z3Sites, land:z3Land, gaps:[], borders:z3Borders, dot:'#4f7cbb', fill:'rgba(69,117,180,0.14)', edge:'rgba(69,117,180,0.18)', weather:z3Weather, pie:[1014,1472.5], key:[628,1442], tagX:122, tagY:887},
 {tag:'(d) Z4 Marine', box:[1412,880,1089,750], lon:[-126,-118], lat:[32.2,40.6], lonT:z4LonTicks, lonL:z4LonLabels, latT:z4LatTicks, latL:z4LatLabels, sites:z4Sites, land:z4Land, gaps:z4Bay, borders:z4Borders, dot:'#9d57ab', fill:'rgba(152,78,163,0.15)', edge:'rgba(152,78,163,0.22)', weather:z4Weather, pie:[1597,1472.5], key:[1784,1442], tagX:1426, tagY:887},
 {tag:'(e) Z5 High Plains', box:[111,1750,1089,751], lon:[-110.11,-98.36], lat:[35.2,42.01], lonT:z5LonTicks, lonL:z5LonLabels, latT:z5LatTicks, latL:z5LatLabels, sites:z5Sites, land:z5Land, gaps:z5Gaps, borders:z5Borders, dot:'#ff8a17', fill:'rgba(255,127,14,0.14)', edge:'rgba(255,127,14,0.2)', weather:z5Weather, pie:[1014,2344], key:[628,2313], tagX:122, tagY:1760}
];

// Rounds the corners of a projected line; long straight runs keep their sharp corners
function cornerPath(pts, closed, cap, keepLong) {
  const n = pts.length;
  const f = v => v.toFixed(1);
  const corner = (a, b, c) => {
    const l1 = Math.hypot(a[0] - b[0], a[1] - b[1]), l2 = Math.hypot(c[0] - b[0], c[1] - b[1]);
    if (l1 === 0 || l2 === 0 || (keepLong && l1 > 60 && l2 > 60)) return 'L' + f(b[0]) + ' ' + f(b[1]);
    const r = Math.min(l1 / 2, l2 / 2, cap);
    const p = [b[0] + (a[0] - b[0]) * r / l1, b[1] + (a[1] - b[1]) * r / l1];
    const q = [b[0] + (c[0] - b[0]) * r / l2, b[1] + (c[1] - b[1]) * r / l2];
    return 'L' + f(p[0]) + ' ' + f(p[1]) + 'Q' + f(b[0]) + ' ' + f(b[1]) + ' ' + f(q[0]) + ' ' + f(q[1]);
  };
  if (closed) {
    const s = [(pts[n - 1][0] + pts[0][0]) / 2, (pts[n - 1][1] + pts[0][1]) / 2];
    let d = 'M' + f(s[0]) + ' ' + f(s[1]);
    for (let i = 0; i < n; i++) d += corner(pts[(i + n - 1) % n], pts[i], pts[(i + 1) % n]);
    return d + 'Z';
  }
  let d = 'M' + f(pts[0][0]) + ' ' + f(pts[0][1]);
  for (let i = 1; i < n - 1; i++) d += corner(pts[i - 1], pts[i], pts[i + 1]);
  return d + 'L' + f(pts[n - 1][0]) + ' ' + f(pts[n - 1][1]);
}

// Builds one SVG path from a set of rings; filled rings and gaps get opposite winding
function ringPath(rings, api, wantPositive) {
  return rings.map(ring => {
    let pts = ring.map(p => api.coord(p));
    let area = 0;
    pts.forEach((p, i) => { const q = pts[(i + 1) % pts.length]; area += p[0] * q[1] - q[0] * p[1]; });
    if ((area > 0) !== wantPositive) pts = pts.slice().reverse();
    return cornerPath(pts, true, 15, false);
  }).join('');
}

const grid = [], xAxis = [], yAxis = [], series = [], title = [], legend = [], graphic = [];

function addAxes(box, xr, yr, xT, yT, xFmt, yFmt, extra) {
  extra = extra || {};
  const gridStyle = extra.gridLine || {color:'rgba(0,0,0,0.085)', width:1.5, type:[6,6]};
  const fs = extra.fontSize || 37;
  const nudge = extra.yNudge === undefined ? 7 : extra.yNudge;
  grid.push({left:box[0], top:box[1], width:box[2], height:box[3], show:true, borderColor:'#000', borderWidth:2.5, backgroundColor:extra.bg || 'transparent', z:extra.z || 0});
  const common = {scale:true, z:extra.axisZ || 6, axisLine:{show:true, onZero:false, lineStyle:{color:'#000', width:2.5}}};
  // Only a tick sitting on the plot frame skips its grid line
  const splitFor = (ticks, range) => ({show:true, showMinLine:ticks[0] > range[0] + 1e-6, showMaxLine:ticks[ticks.length - 1] < range[1] - 1e-6, lineStyle:gridStyle});
  xAxis.push(Object.assign({}, common, {type:'value', gridIndex:grid.length - 1, min:xr[0], max:xr[1],
    axisTick:{show:true, length:10, lineStyle:{color:'#000', width:2.5}, customValues:xT},
    axisLabel:{show:true, fontFamily:FONT, fontSize:fs, color:INK, margin:extra.xMargin || 13, customValues:xT, formatter:xFmt, hideOverlap:false, showMinLabel:true, showMaxLabel:true},
    splitLine:splitFor(xT, xr)}, extra.xOpt || {}));
  yAxis.push(Object.assign({}, common, {type:'value', gridIndex:grid.length - 1, min:yr[0], max:yr[1],
    axisTick:{show:true, length:10, lineStyle:{color:'#000', width:2.5}, customValues:yT},
    axisLabel:{show:true, fontFamily:FONT, fontSize:fs, color:INK, margin:extra.yMargin || 13, customValues:yT,
      formatter:v => '{t|' + yFmt(v) + '}', rich:{t:{fontFamily:FONT, fontSize:fs, color:INK, padding:[nudge,0,0,0]}}, hideOverlap:false, showMinLabel:true, showMaxLabel:true},
    splitLine:splitFor(yT, yr)}, extra.yOpt || {}));
  return grid.length - 1;
}

panels.forEach(p => {
  const labelOf = (ticks, labels) => v => {
    const i = ticks.findIndex(t => Math.abs(t - v) < 1e-6);
    return i < 0 ? '' : labels[i];
  };
  const g = addAxes(p.box, p.lon, p.lat, p.lonT, p.latT, labelOf(p.lonT, p.lonL), labelOf(p.latT, p.latL));
  const onGrid = {xAxisIndex:g, yAxisIndex:g, coordinateSystem:'cartesian2d', silent:true, animation:false};
  series.push(Object.assign({}, onGrid, {type:'custom', z:2, clip:true, data:[[p.lon[0], p.lat[0]]],
    renderItem:(params, api) => ({type:'path', shape:{pathData:ringPath(p.land, api, true) + ringPath(p.gaps, api, false)},
      style:{fill:p.fill, stroke:p.edge, lineWidth:2}})}));
  series.push(Object.assign({}, onGrid, {type:'custom', z:3, clip:true, data:[[p.lon[0], p.lat[0]]],
    renderItem:(params, api) => ({type:'path',
      shape:{pathData:p.borders.map(line => cornerPath(line.map(q => api.coord(q)), false, 18, true)).join('')},
      style:{fill:'none', stroke:'#8a8a8a', lineWidth:2}})}));
  series.push(Object.assign({}, onGrid, {type:'scatter', z:4, data:p.sites, symbol:'circle', symbolSize:35,
    itemStyle:{color:p.dot, borderColor:'#fff', borderWidth:1.6, opacity:1}}));
  series.push({type:'pie', z:5, silent:true, animation:false, center:p.pie, radius:[69,137.5], startAngle:90, clockwise:true,
    avoidLabelOverlap:false, labelLine:{show:false}, labelLayout:{hideOverlap:false}, itemStyle:{borderColor:'#fff', borderWidth:2.5},
    data:weatherNames.map((name, i) => ({name, value:p.weather[i],
      itemStyle:{color:['#fdd774','#969696','#000000'][i]},
      label:{show:p.weather[i] >= 3, position:'inside', formatter:p.weather[i] + '%', fontFamily:FONT, fontSize:33, fontWeight:'bold',
        color:i === 0 ? '#7f4f00' : '#ffffff', textBorderColor:i === 0 ? '#ffffff' : '#333333', textBorderWidth:5}}))});
  title.push({text:p.tag, left:p.tagX, top:p.tagY, padding:[4,9,5,9], backgroundColor:'rgba(255,255,255,0.82)', borderRadius:6, z:8,
    textStyle:{fontFamily:FONT, fontSize:38, fontWeight:'bold', color:'#262626', lineHeight:42}});
  legend.push({left:p.key[0], top:p.key[1], orient:'vertical', padding:0, itemWidth:26, itemHeight:24, itemGap:14, icon:'rect', selectedMode:false, z:9,
    data:weatherNames, textStyle:{fontFamily:FONT, fontSize:32.5, color:INK, padding:[0,0,0,21], lineHeight:34}});
  graphic.push({type:'text', x:p.pie[0], y:p.pie[1] + 1, z:30, silent:true,
    style:{text:'Weather', align:'center', verticalAlign:'middle', fontFamily:FONT, fontSize:32, fontWeight:'bold', fill:'#444444', stroke:'#ffffff', lineWidth:5}});
});

// Main irradiance plot
const fAxisStyle = {color:'#cfcfcf', width:2.5, type:[10,6]};
const fGrid = addAxes([1412,1750,1089,752], [5,19], [0,1400], hourTicks, irradianceTicks, v => String(v), v => String(v), {
  gridLine:fAxisStyle, xMargin:18, yMargin:15,
  xOpt:{name:'Time of Day (Hours)', nameLocation:'middle', nameGap:65, nameTextStyle:{fontFamily:FONT, fontSize:43, fontWeight:'bold', color:'#111'}},
  yOpt:{name:'Irradiance (W/m²)', nameLocation:'middle', nameGap:127, nameTextStyle:{fontFamily:FONT, fontSize:43, fontWeight:'bold', color:'#111'}}
});
const onMain = {xAxisIndex:fGrid, yAxisIndex:fGrid, silent:true, animation:false};
const plainLine = (name, xs, ys, color, width, z, more) => Object.assign({}, onMain, {
  type:'line', name, z, data:zip(xs, ys), showSymbol:false, symbol:'none', lineStyle:Object.assign({color, width, join:'round'}, more || {}), itemStyle:{color}});

series.push(Object.assign({}, onMain, {type:'custom', name:'Noise envelope', z:2, coordinateSystem:'cartesian2d', clip:true, data:[[5,0]],
  itemStyle:{color:'rgba(255,165,0,0.15)'},
  renderItem:(params, api) => ({type:'polygon',
    shape:{points:zip(upperHours, upperValues).concat(zip(lowerHours, lowerValues).reverse()).map(q => api.coord(q))},
    style:{fill:'rgba(255,165,0,0.15)', stroke:'rgba(255,165,0,0.12)', lineWidth:2}})}));
series.push(plainLine('Clear-sky baseline', clearHours, clearValues, '#a9a9a9', 5.2, 3, {type:[5,8.5]}));
series.push(Object.assign(plainLine('Observed signal', observedHours, observedValues, '#000000', 6.2, 4), {smooth:0.25, smoothMonotone:'x'}));
series.push(Object.assign(plainLine('Bias-added signal', biasHours, biasValues, '#ff8c00', 5.4, 5, {type:[19,9]}), {smooth:0.25, smoothMonotone:'x'}));
series.push(Object.assign({}, onMain, {type:'line', name:'Final perturbed signal', z:6, data:finalSignal, showSymbol:false, symbol:'none',
  lineStyle:{color:'#2f80b9', width:4, join:'round'}, itemStyle:{color:'#2f80b9'}}));
series.push(plainLine('clouds-arrow', cloudsArrowHours, cloudsArrowValues, '#cc2b36', 3.4, 7));
series[series.length - 1].smooth = 0.4;
series.push(plainLine('clouds-head', cloudsHeadHours, cloudsHeadValues, '#cc2b36', 3.4, 7));
series.push(plainLine('noise-arrow', noiseArrowHours, noiseArrowValues, '#2f80b9', 3.2, 7));
series[series.length - 1].smooth = 0.4;
series.push(plainLine('bias-arrow', biasArrowHours, biasArrowValues, '#ff8c00', 3.6, 7));
series.push(plainLine('bias-head', biasHeadHours, biasHeadValues, '#ff8c00', 3.6, 7));

title.push({text:'(f) Error Injection Schematic', left:1424, top:1695, padding:0, z:8,
  textStyle:{fontFamily:FONT, fontSize:38, fontWeight:'bold', color:'#111', lineHeight:44}});
// Legend keys drawn as paths; the zero-area runs hold every key at the full key size
const keyFrame = 'M0 0L58 0ZM0 21L58 21Z';
legend.push({left:1427, top:1765, orient:'vertical', padding:[8,12,11,11], itemWidth:58, itemHeight:21, itemGap:11, symbolKeepAspect:false, selectedMode:false, z:20,
  backgroundColor:'rgba(255,255,255,0.82)', borderColor:'#cccccc', borderWidth:2, borderRadius:7,
  data:[
    {name:'Clear-sky baseline', icon:'path://' + keyFrame + 'M0 8H6V13H0ZM15 8H21V13H15ZM29 8H35V13H29ZM42 8H48V13H42Z'},
    {name:'Observed signal', icon:'path://' + keyFrame + 'M0 7.5H58V13.5H0Z'},
    {name:'Bias-added signal', icon:'path://' + keyFrame + 'M0 8H22V13.5H0ZM36 8H58V13.5H36Z'},
    {name:'Noise envelope', icon:'rect', itemStyle:{color:'rgba(255,165,0,0.15)'}},
    {name:'Final perturbed signal', icon:'path://' + keyFrame + 'M0 8.5H58V12.5H0Z'}
  ],
  textStyle:{fontFamily:FONT, fontSize:28.5, color:INK, padding:[0,0,0,17], lineHeight:31}});

// Clearness index inset, painted above the main plot
const insetGrid = addAxes([1739,2254,327,188], [5,19], [0,1.4], insetHourTicks, insetIndexTicks, v => String(v), v => v.toFixed(1), {
  bg:'#ffffff', z:10, axisZ:13, fontSize:29, xMargin:14, yMargin:12, yNudge:3, gridLine:{color:'#cfcfcf', width:2.5, type:'solid'}});
series.push({type:'line', xAxisIndex:insetGrid, yAxisIndex:insetGrid, z:12, silent:true, animation:false, smooth:0.4, smoothMonotone:'x',
  data:zip(clearnessHours, clearnessValues), showSymbol:false, symbol:'none', lineStyle:{color:'#800080', width:3.8}});

// Text callouts on the main plot
const calloutFont = {fontFamily:FONT, fontSize:32};
graphic.push(
  {type:'rect', z:31, silent:true, shape:{x:2046, y:1899, width:272, height:86, r:6}, style:{fill:'rgba(255,255,255,0.85)', stroke:'#d0484f', lineWidth:2.2}},
  {type:'text', x:2182, y:1942, z:32, silent:true, style:Object.assign({text:'Larger variance\nunder clouds', align:'center', verticalAlign:'middle', fill:'#cc2b36', lineHeight:38}, calloutFont)},
  {type:'rect', z:31, silent:true, shape:{x:2227, y:2151, width:283, height:48, r:6}, style:{fill:'rgba(255,255,255,0.85)', stroke:'#3a87bd', lineWidth:2.2}},
  {type:'text', x:2368, y:2177, z:32, silent:true, style:{text:'Correlated noise', align:'center', verticalAlign:'middle', fill:'#1f77b4', fontFamily:FONT, fontSize:33}},
  {type:'text', x:1627, y:2208, z:32, silent:true, style:{text:'Bias', align:'center', verticalAlign:'middle', fill:'#ff8c00', fontFamily:FONT, fontSize:33, fontWeight:'bold'}},
  {type:'text', x:1902, y:2230, z:32, silent:true, style:{text:'Clearness Index', align:'center', verticalAlign:'middle', fill:'#000', fontFamily:FONT, fontSize:34, fontWeight:'bold'}}
);

const chart = echarts.init(document.getElementById('chart'), null, {renderer:'canvas', width:2568, height:2617});
chart.setOption({animation:false, backgroundColor:'#ffffff', textStyle:{fontFamily:FONT}, grid, xAxis, yAxis, series, title, legend, graphic});
</script>
</body>
</html>
